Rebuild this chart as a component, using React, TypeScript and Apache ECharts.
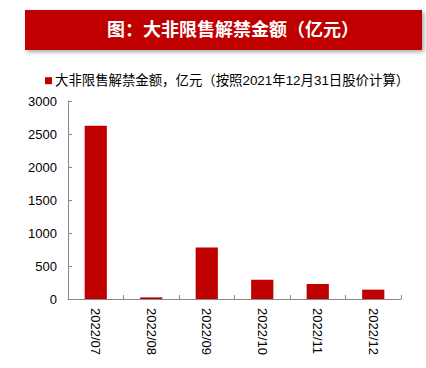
import React, { useEffect, useRef } from "react";
import * as echarts from "echarts";

const categories = ["2022/07", "2022/08", "2022/09", "2022/10", "2022/11", "2022/12"];
const values = [2625, 25, 780, 292, 228, 142];
const seriesName = "大非限售解禁金额，亿元（按照2021年12月31日股价计算）";
const chartTitle = "图：大非限售解禁金额（亿元）";
const yTicks = { min: 0, max: 3000, interval: 500 };

const FONT = "'Liberation Sans', Arial, 'Noto Sans CJK SC', sans-serif";

export default function App() {
  const ref = useRef<HTMLDivElement>(null);
  useEffect(() => {
    if (!ref.current) return;
    const chart = echarts.init(ref.current, undefined, { renderer: "svg" });
    chart.setOption({
      animation: false,
      backgroundColor: "#ffffff",
      textStyle: { fontFamily: FONT },
      graphic: [
        {
          type: "rect",
          shape: { x: 25, y: 10, width: 397, height: 40 },
          style: {
            fill: "#C00000",
            shadowBlur: 4,
            shadowOffsetX: 2,
            shadowOffsetY: 2,
            shadowColor: "rgba(0,0,0,0.35)",
          },
        },
        {
          type: "text",
          x: 233,
          y: 30,
          style: {
            text: chartTitle,
            fill: "#ffffff",
            font: `bold 18px ${FONT}`,
            textAlign: "center",
            textVerticalAlign: "middle",
          },
        },
      ],
      legend: {
        data: [seriesName],
        left: 40,
        top: 69,
        icon: "rect",
        itemWidth: 7,
        itemHeight: 7,
        itemGap: 4,
        textStyle: { fontSize: 13.4, color: "#000", fontFamily: FONT, padding: [0, 0, 0, -2] },
      },
      grid: { left: 68, right: 25, top: 101, bottom: 69, containLabel: false },
      xAxis: {
        type: "category",
        data: categories,
        axisLine: { lineStyle: { color: "#888888", width: 1 } },
        axisTick: { show: true, inside: true, length: 4, lineStyle: { color: "#888888" } },
        axisLabel: {
          rotate: -90,
          color: "#000",
          fontSize: 13,
          margin: 9,
          fontFamily: FONT,
        },
      },
      yAxis: {
        type: "value",
        min: yTicks.min,
        max: yTicks.max,
        interval: yTicks.interval,
        splitLine: { show: false },
        axisLine: { show: true, lineStyle: { color: "#888888", width: 1 } },
        axisTick: { show: true, inside: true, length: 4, lineStyle: { color: "#888888" } },
        axisLabel: {
          color: "#000",
          fontSize: 13,
          margin: 11,
          fontFamily: FONT,
          formatter: (v: number) => String(v),
        },
      },
      series: [
        {
          name: seriesName,
          type: "bar",
          data: values,
          barWidth: "40%",
          itemStyle: { color: "#BE0000" },
        },
      ],
    });
    return () => chart.dispose();
  }, []);
  return (
    <div
      ref={ref}
      style={{ position: "fixed", left: 0, top: 0, width: 426, height: 368 }}
    />
  );
}
